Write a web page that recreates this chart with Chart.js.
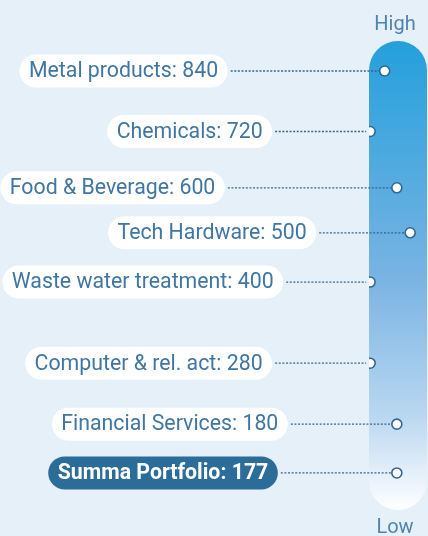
<!DOCTYPE html>
<html>
<head>
<meta charset="utf-8">
<script src="https://cdn.jsdelivr.net/npm/chart.js@4"></script>
<style>
  html, body { margin: 0; padding: 0; background: #e5f0f8; }
  #wrap { width: 428px; height: 536px; }
</style>
</head>
<body>
<div id="wrap"><canvas id="rankChart" width="428" height="536"></canvas></div>
<script>
// sectors and their values
var sectors = ['Metal products', 'Chemicals', 'Food & Beverage', 'Tech Hardware',
  'Waste water treatment', 'Computer & rel. act', 'Financial Services', 'Summa Portfolio'];
var values = [840, 720, 600, 500, 400, 280, 180, 177];
// position on the High-Low scale (0 = low, 100 = high)
var levels = [93.6, 80.7, 68.7, 59.1, 48.6, 31.3, 18.3, 7.9];
// sideways spread of the dots inside the bar
var spread = [27, 2, 48, 71, 2, 2, 48, 48];
var highlight = 'Summa Portfolio';

var points = sectors.map(function (s, i) {
  return { x: spread[i], y: levels[i], name: s, value: values[i] };
});

var barPlugin = {
  id: 'rankBar',
  beforeDatasetsDraw: function (chart) {
    var ctx = chart.ctx, a = chart.chartArea;
    var w = a.right - a.left, r = w / 2;
    var g = ctx.createLinearGradient(0, a.top, 0, a.bottom);
    g.addColorStop(0, '#24a0dc');
    g.addColorStop(0.5, '#78b3e2');
    g.addColorStop(0.8, '#bad7f0');
    g.addColorStop(1, '#ffffff');
    ctx.save();
    ctx.fillStyle = g;
    ctx.beginPath();
    ctx.roundRect(a.left, a.top, w, a.bottom - a.top, r);
    ctx.fill();

    ctx.fillStyle = '#4f84b0';
    ctx.font = '20px Roboto';
    ctx.textAlign = 'center';
    ctx.textBaseline = 'alphabetic';
    ctx.fillText('High', a.left + r - 3, 30);
    ctx.fillText('Low', a.left + r - 3, 533);
    ctx.restore();
  }
};

// pills and dotted connectors, drawn under the dots
var labelPlugin = {
  id: 'pillLabels',
  beforeDatasetsDraw: function (chart, args, opts) {
    var ctx = chart.ctx;
    var meta = chart.getDatasetMeta(0);
    ctx.save();
    meta.data.forEach(function (el, i) {
      var p = points[i];
      var hl = p.name === highlight;
      var txt = p.name + ': ' + p.value;
      ctx.font = (hl ? 'bold ' : '') + '21.3px Roboto';
      var tw = ctx.measureText(txt).width;
      var h = 33, pad = 9.5;
      var right = el.x - opts.reach[i];
      var left = right - tw - pad * 2;
      var top = el.y - h / 2;

      ctx.strokeStyle = '#33668f';
      ctx.lineWidth = 1.3;
      ctx.setLineDash([2, 1.6]);
      ctx.beginPath();
      ctx.moveTo(right + 3, el.y);
      ctx.lineTo(el.x - 4, el.y);
      ctx.stroke();
      ctx.setLineDash([]);

      ctx.fillStyle = hl ? '#2b6c99' : '#ffffff';
      ctx.beginPath();
      ctx.roundRect(left, top, right - left, h, h / 2);
      ctx.fill();

      ctx.fillStyle = hl ? '#ffffff' : '#3f76a3';
      ctx.textAlign = 'left';
      ctx.textBaseline = 'middle';
      ctx.fillText(txt, left + pad, el.y + 1);
    });
    ctx.restore();
  }
};

var ctx = document.getElementById('rankChart').getContext('2d');
var myChart = new Chart(ctx, {
  type: 'scatter',
  data: {
    datasets: [{
      data: points,
      pointRadius: 5,
      pointBackgroundColor: '#ffffff',
      pointBorderColor: '#33668f',
      pointBorderWidth: 1.6
    }]
  },
  options: {
    responsive: false,
    animation: false,
    layout: { autoPadding: false, padding: { left: 369, right: 1, top: 41, bottom: 26 } },
    scales: {
      x: { display: false, min: 0, max: 100 },
      y: { display: false, min: 0, max: 100 }
    },
    plugins: {
      legend: { display: false },
      tooltip: { enabled: false },
      pillLabels: { reach: [157, 98, 172, 94, 87, 98, 109, 119] }
    }
  },
  plugins: [barPlugin, labelPlugin]
});
</script>
</body>
</html>
